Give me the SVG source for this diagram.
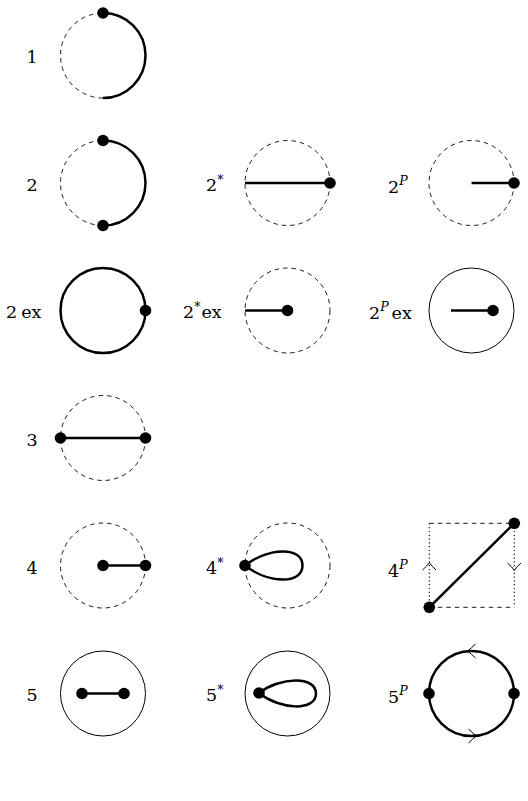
<svg xmlns="http://www.w3.org/2000/svg" width="528" height="801" viewBox="0 0 528 801">
<style>
text{font-family:'DejaVu Serif','Liberation Serif',serif;font-size:17.5px;fill:#000}
.sup{font-size:12.5px}
.it{font-style:italic}
.dash{fill:none;stroke:#000;stroke-width:0.9;stroke-dasharray:4.5 4}
.dot{fill:none;stroke:#000;stroke-width:1.1;stroke-dasharray:1.2 2.6}
.thin{fill:none;stroke:#000;stroke-width:1}
.thick{fill:none;stroke:#000;stroke-width:2.5}
.arr{fill:none;stroke:#000;stroke-width:1}
.v{fill:#000}
</style>
<rect width="528" height="801" fill="#fff"/>

<g id="d1">
<text x="32" y="63" text-anchor="middle">1</text>
<path class="dash" d="M103,98 A42.5,42.5 0 0 1 103,13"/>
<path class="thick" d="M103,13 A42.5,42.5 0 0 1 103,98"/>
<circle class="v" cx="103" cy="13" r="5.8"/>
</g>

<g id="d2">
<text x="32" y="190.5" text-anchor="middle">2</text>
<path class="dash" d="M103,225.5 A42.5,42.5 0 0 1 103,140.5"/>
<path class="thick" d="M103,140.5 A42.5,42.5 0 0 1 103,225.5"/>
<circle class="v" cx="103" cy="140.5" r="5.8"/>
<circle class="v" cx="103" cy="225.5" r="5.8"/>
</g>

<g id="d2star">
<text x="206" y="190.5">2<tspan class="sup" dy="-7">*</tspan></text>
<circle class="dash" cx="287.5" cy="183" r="42.5"/>
<line class="thick" x1="245" y1="183" x2="330" y2="183"/>
<circle class="v" cx="330" cy="183" r="5.8"/>
</g>

<g id="d2P">
<text x="388" y="192.5">2<tspan class="sup it" dy="-8">P</tspan></text>
<circle class="dash" cx="471.5" cy="183" r="42.5"/>
<line class="thick" x1="471.5" y1="183" x2="514" y2="183"/>
<circle class="v" cx="514" cy="183" r="5.8"/>
</g>

<g id="d2ex">
<text x="6" y="317.5">2<tspan dx="4">ex</tspan></text>
<circle class="thick" cx="103" cy="310.5" r="42.5"/>
<circle class="v" cx="145.5" cy="310.5" r="5.8"/>
</g>

<g id="d2starex">
<text x="183" y="317.5">2<tspan class="sup" dy="-7">*</tspan><tspan dy="7" dx="1">ex</tspan></text>
<circle class="dash" cx="287.5" cy="310.5" r="42.5"/>
<line class="thick" x1="245" y1="310.5" x2="287.5" y2="310.5"/>
<circle class="v" cx="287.5" cy="310.5" r="5.8"/>
</g>

<g id="d2Pex">
<text x="369" y="319">2<tspan class="sup it" dy="-8">P</tspan><tspan dy="8" dx="3">ex</tspan></text>
<circle class="thin" cx="471.5" cy="310.5" r="42.5"/>
<line class="thick" x1="451" y1="310.5" x2="493" y2="310.5"/>
<circle class="v" cx="493" cy="310.5" r="5.8"/>
</g>

<g id="d3">
<text x="32" y="445.5" text-anchor="middle">3</text>
<circle class="dash" cx="103" cy="438" r="42.5"/>
<line class="thick" x1="60.5" y1="438" x2="145.5" y2="438"/>
<circle class="v" cx="60.5" cy="438" r="5.8"/>
<circle class="v" cx="145.5" cy="438" r="5.8"/>
</g>

<g id="d4">
<text x="32" y="573.5" text-anchor="middle">4</text>
<circle class="dash" cx="103" cy="565.5" r="42.5"/>
<line class="thick" x1="103" y1="565.5" x2="145.5" y2="565.5"/>
<circle class="v" cx="103" cy="565.5" r="5.8"/>
<circle class="v" cx="145.5" cy="565.5" r="5.8"/>
</g>

<g id="d4star">
<text x="206" y="573.5">4<tspan class="sup" dy="-7">*</tspan></text>
<circle class="dash" cx="287.5" cy="565.5" r="42.5"/>
<path class="thick" d="M245,565.5 C268,547.5 302.5,546 302.5,565.5 C302.5,585 268,583.5 245,565.5 Z"/>
<circle class="v" cx="245" cy="565.5" r="5.8"/>
</g>

<g id="d4P">
<text x="388" y="576.5">4<tspan class="sup it" dy="-8">P</tspan></text>
<line class="dash" x1="429.3" y1="523.3" x2="514.3" y2="523.3"/>
<line class="dash" x1="429.3" y1="607.3" x2="514.3" y2="607.3"/>
<line class="dot" x1="429.3" y1="523.3" x2="429.3" y2="607.3"/>
<line class="dot" x1="514.3" y1="523.3" x2="514.3" y2="607.3"/>
<line class="thick" x1="429.3" y1="607.3" x2="514.3" y2="523.3"/>
<path class="arr" d="M422.5,570 Q427,566 429.3,562.7 Q431.6,566 436,570"/>
<path class="arr" d="M507.5,563 Q512,567 514.3,570.3 Q516.6,567 521,563"/>
<circle class="v" cx="429.3" cy="607.3" r="5.8"/>
<circle class="v" cx="514.3" cy="523.3" r="5.8"/>
</g>

<g id="d5">
<text x="32" y="701" text-anchor="middle">5</text>
<circle class="thin" cx="103" cy="693.5" r="42.5"/>
<line class="thick" x1="82" y1="693.5" x2="124" y2="693.5"/>
<circle class="v" cx="82" cy="693.5" r="5.8"/>
<circle class="v" cx="124" cy="693.5" r="5.8"/>
</g>

<g id="d5star">
<text x="206" y="701">5<tspan class="sup" dy="-7">*</tspan></text>
<circle class="thin" cx="287.5" cy="693.5" r="42.5"/>
<path class="thick" d="M259,693 C280,677 316,675.5 316,693.5 C316,711.5 280,710 259,693 Z"/>
<circle class="v" cx="259" cy="693" r="5.8"/>
</g>

<g id="d5P">
<text x="388" y="703">5<tspan class="sup it" dy="-8">P</tspan></text>
<circle class="thick" cx="471.5" cy="693.5" r="42.5"/>
<path class="arr" d="M475.5,644 Q471,648.5 467.5,651 Q471,653.5 475.5,658"/>
<path class="arr" d="M468.5,729 Q473,733.5 476.5,736 Q473,738.5 468.5,743"/>
<circle class="v" cx="429" cy="693.5" r="5.8"/>
<circle class="v" cx="514" cy="693.5" r="5.8"/>
</g>
</svg>
